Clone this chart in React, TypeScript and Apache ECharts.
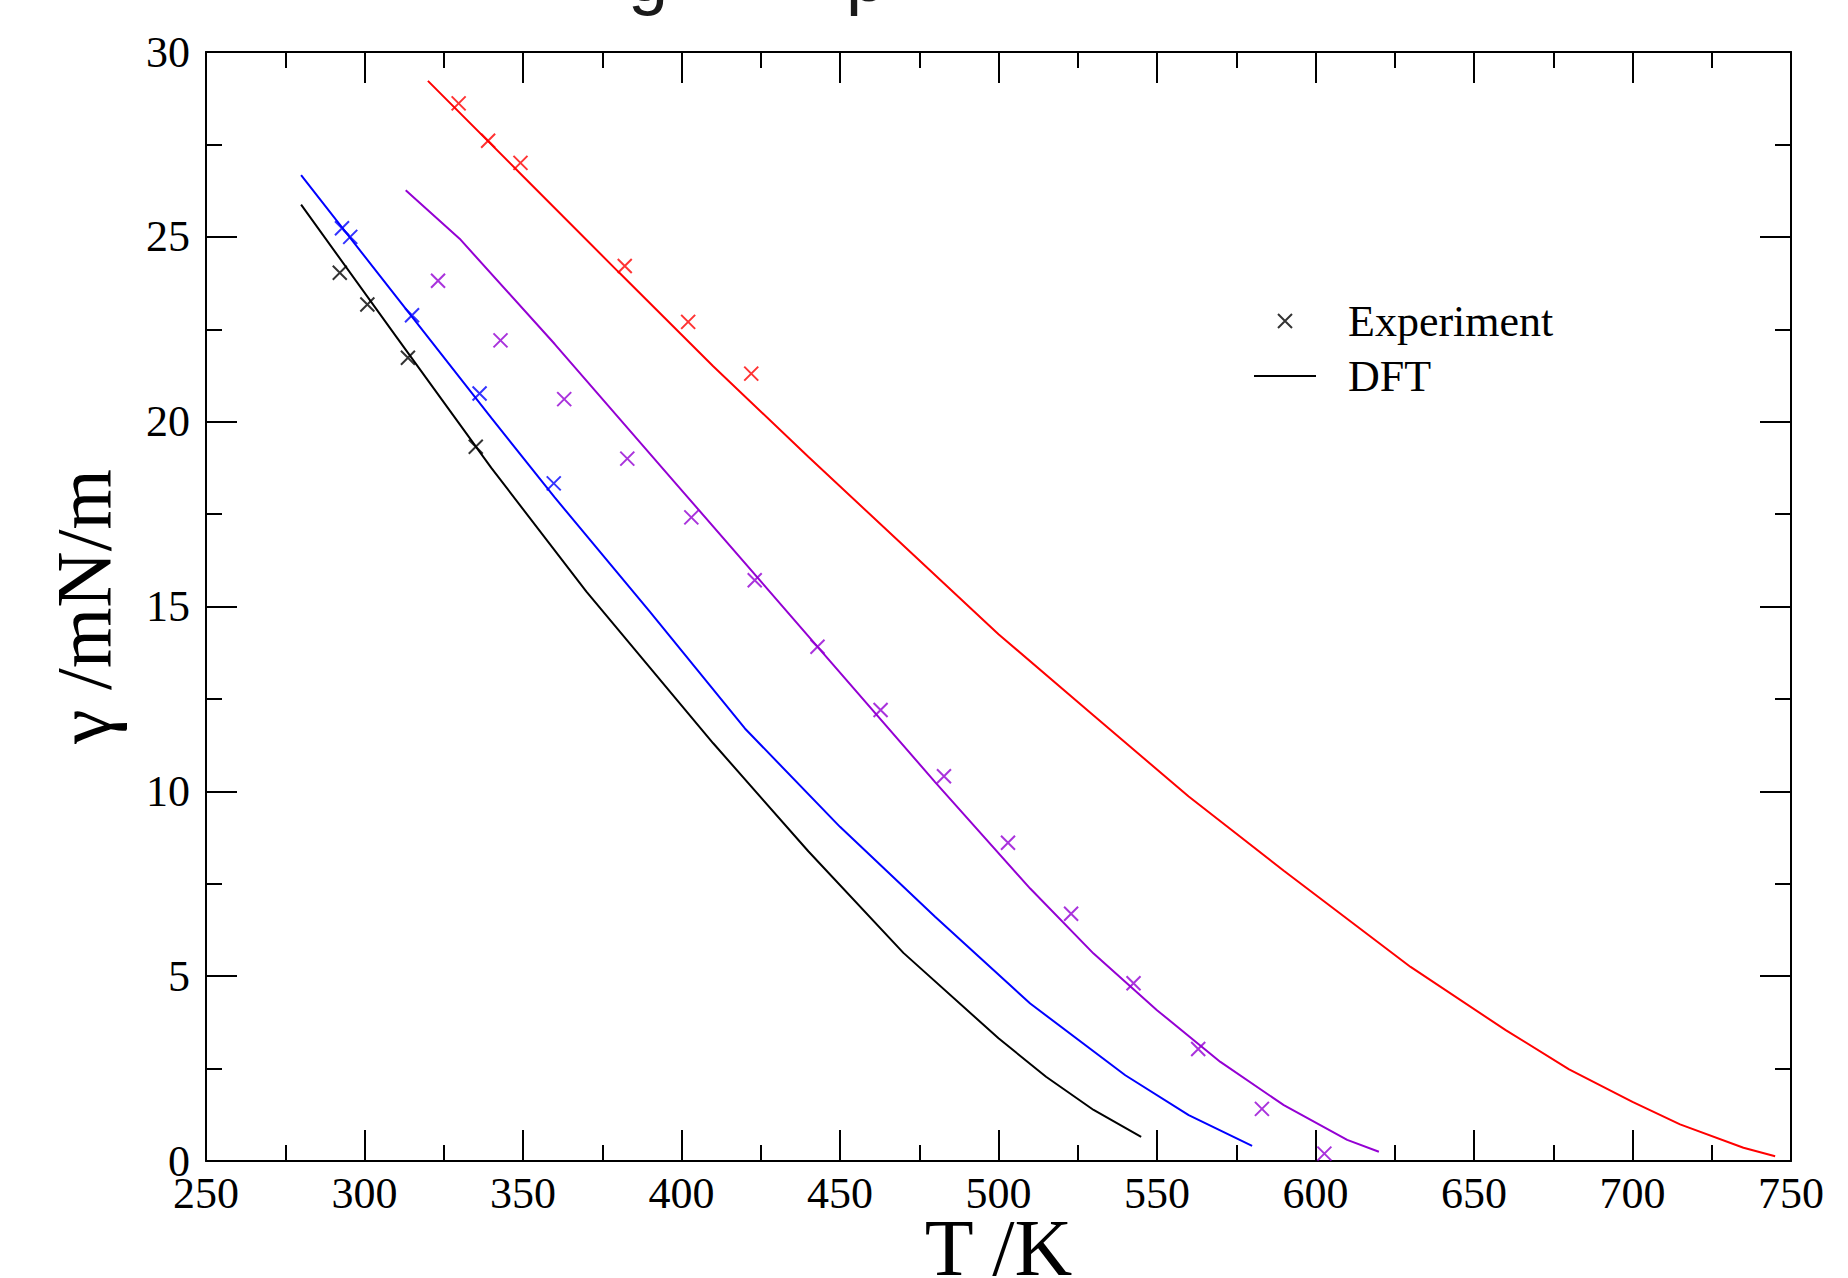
import React, { useEffect, useRef } from "react";
import * as echarts from "echarts";

// ---- axis ranges / ticks ----
const xMin = 250;
const xMax = 750;
const xInterval = 50;
const yMin = 0;
const yMax = 30;
const yInterval = 5;

// ---- DFT curves (T / K, gamma / mN/m) ----
const blackDftT = [280, 310, 340, 370, 410, 440, 470, 500, 515, 530, 545];
const blackDftG = [25.87, 22.3, 18.75, 15.4, 11.3, 8.38, 5.63, 3.32, 2.28, 1.38, 0.65];

const blueDftT = [280, 310, 340, 360, 390, 420, 450, 480, 510, 540, 560, 580];
const blueDftG = [26.67, 23.38, 20.1, 17.95, 14.86, 11.7, 9.04, 6.61, 4.26, 2.32, 1.24, 0.41];

const purpleDftT = [313, 330, 360, 400, 440, 480, 510, 530, 550, 570, 590, 610, 620];
const purpleDftG = [26.26, 24.95, 22.1, 18.15, 14.2, 10.25, 7.37, 5.61, 4.08, 2.68, 1.51, 0.57, 0.25];

const redDftT = [320, 350, 380, 410, 440, 470, 500, 530, 560, 590, 630, 660, 680, 700, 715, 735, 745];
const redDftG = [29.22, 26.64, 24.06, 21.5, 19.05, 16.65, 14.25, 12.05, 9.86, 7.85, 5.25, 3.54, 2.48, 1.6, 0.99, 0.36, 0.13];

// ---- experimental points ----
const blackExpT = [292.2, 300.9, 313.7, 335.1];
const blackExpG = [24.03, 23.17, 21.73, 19.32];

const blueExpT = [292.9, 295.5, 315.0, 336.3, 359.7];
const blueExpG = [25.23, 25.0, 22.88, 20.76, 18.33];

const purpleExpT = [323.2, 342.9, 363.0, 382.9, 403.1, 423.1, 442.9, 462.8, 482.8, 503.0, 522.9, 542.6, 563.0, 583.1, 602.8];
const purpleExpG = [23.81, 22.2, 20.61, 19.0, 17.41, 15.71, 13.91, 12.2, 10.41, 8.61, 6.69, 4.81, 3.03, 1.41, 0.2];

const redExpT = [329.7, 339.0, 349.2, 382.1, 402.1, 422.0];
const redExpG = [28.61, 27.6, 27.0, 24.21, 22.7, 21.3];

const legendNames = ["Experiment", "DFT"];

const colors = {
  black: "#000000",
  blue: "#0000ff",
  purple: "#9400d3",
  red: "#ff0000",
};

const SERIF = "'Liberation Serif', 'Times New Roman', serif";
const CROSS = "path://M0,0L10,10M0,10L10,0";
const BAR = "path://M0,0L100,0L100,3L0,3Z";

const zip = (a: number[], b: number[]) => a.map((v, i) => [v, b[i]]);

function dft(color: string, t: number[], g: number[]) {
  return {
    type: "line",
    name: "DFT",
    data: zip(t, g),
    symbol: "none",
    showSymbol: false,
    smooth: false,
    lineStyle: { color, width: 2 },
    itemStyle: { color },
    z: 2,
  };
}

function exp(color: string, t: number[], g: number[]) {
  return {
    type: "scatter",
    name: "Experiment",
    data: zip(t, g),
    symbol: CROSS,
    symbolSize: 14,
    itemStyle: { color, borderColor: color, borderWidth: 2 },
    z: 3,
  };
}

export default function App() {
  const ref = useRef<HTMLDivElement>(null);

  useEffect(() => {
    document.body.style.margin = "0";
    if (!ref.current) return;
    const chart = echarts.init(ref.current, undefined, { renderer: "svg" });

    const axisLineStyle = { color: "#000", width: 2 };
    const tickCommon = {
      show: true,
      inside: true,
      length: 31,
      lineStyle: { color: "#000", width: 2 },
    };
    const minorCommon = {
      show: true,
      splitNumber: 2,
      length: 16,
      lineStyle: { color: "#000", width: 2 },
    };

    chart.setOption({
      animation: false,
      backgroundColor: "#ffffff",
      grid: {
        left: 206,
        right: 57,
        top: 52,
        bottom: 117,
        containLabel: false,
        outerBoundsMode: "none",
      },
      graphic: [
        {
          type: "text",
          left: 628,
          top: -60,
          style: { text: "g", font: "72px 'Liberation Sans', Arial, sans-serif", fill: "#1a1a1a" },
        },
        {
          type: "text",
          left: 846,
          top: -60,
          style: { text: "p", font: "72px 'Liberation Sans', Arial, sans-serif", fill: "#1a1a1a" },
        },
      ],
      legend: {
        data: [
          {
            name: legendNames[0],
            icon: CROSS,
            itemStyle: { color: "#000", borderColor: "#000", borderWidth: 2 },
          },
          {
            name: legendNames[1],
            icon: BAR,
            itemStyle: { color: "#000", borderColor: "#000", borderWidth: 0 },
          },
        ],
        orient: "vertical",
        left: 1249,
        top: 294,
        itemWidth: 62,
        itemHeight: 14,
        itemGap: 11,
        symbolKeepAspect: true,
        selectedMode: false,
        textStyle: {
          fontFamily: SERIF,
          fontSize: 44,
          color: "#000",
          lineHeight: 44,
          padding: [0, 0, 0, 27],
        },
      },
      xAxis: [
        {
          type: "value",
          position: "bottom",
          min: xMin,
          max: xMax,
          interval: xInterval,
          name: "T /K",
          nameLocation: "middle",
          nameGap: 47,
          nameMoveOverlap: false,
          nameTextStyle: { fontFamily: SERIF, fontSize: 80, color: "#000" },
          axisLine: { show: true, onZero: false, lineStyle: axisLineStyle },
          axisTick: tickCommon,
          minorTick: minorCommon,
          splitLine: { show: false },
          axisLabel: { fontFamily: SERIF, fontSize: 44, color: "#000", margin: 10 },
        },
        {
          type: "value",
          position: "top",
          min: xMin,
          max: xMax,
          interval: xInterval,
          axisLine: { show: true, onZero: false, lineStyle: axisLineStyle },
          axisTick: tickCommon,
          minorTick: minorCommon,
          splitLine: { show: false },
          axisLabel: { show: false },
        },
      ],
      yAxis: [
        {
          type: "value",
          position: "left",
          min: yMin,
          max: yMax,
          interval: yInterval,
          name: "\u03b3 /mN/m",
          nameLocation: "middle",
          nameGap: 84,
          nameMoveOverlap: false,
          nameTextStyle: { fontFamily: SERIF, fontSize: 78, color: "#000" },
          axisLine: { show: true, onZero: false, lineStyle: axisLineStyle },
          axisTick: tickCommon,
          minorTick: minorCommon,
          splitLine: { show: false },
          axisLabel: { fontFamily: SERIF, fontSize: 44, color: "#000", margin: 16 },
        },
        {
          type: "value",
          position: "right",
          min: yMin,
          max: yMax,
          interval: yInterval,
          axisLine: { show: true, onZero: false, lineStyle: axisLineStyle },
          axisTick: tickCommon,
          minorTick: minorCommon,
          splitLine: { show: false },
          axisLabel: { show: false },
        },
      ],
      series: [
        dft(colors.black, blackDftT, blackDftG),
        dft(colors.blue, blueDftT, blueDftG),
        dft(colors.purple, purpleDftT, purpleDftG),
        dft(colors.red, redDftT, redDftG),
        exp(colors.black, blackExpT, blackExpG),
        exp(colors.blue, blueExpT, blueExpG),
        exp(colors.purple, purpleExpT, purpleExpG),
        exp(colors.red, redExpT, redExpG),
      ],
    });

    return () => chart.dispose();
  }, []);

  return <div ref={ref} style={{ width: 1848, height: 1278 }} />;
}
